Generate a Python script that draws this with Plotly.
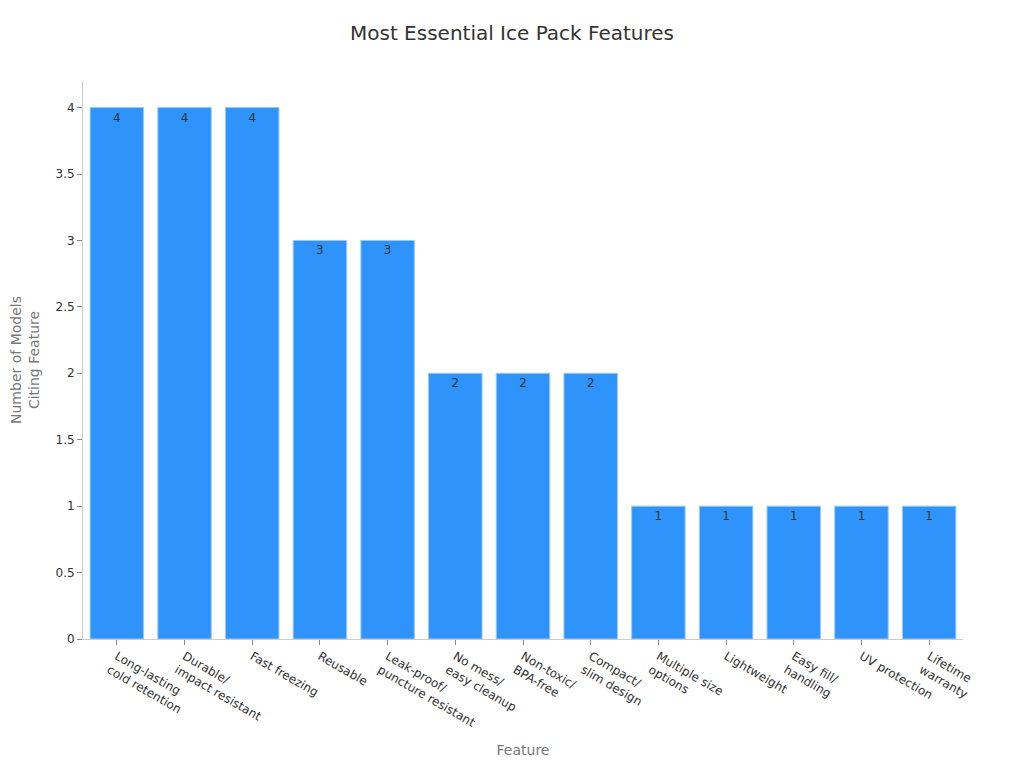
import plotly.graph_objects as go

features = [
    "Long-lasting<br>cold retention",
    "Durable/<br>impact resistant",
    "Fast freezing",
    "Reusable",
    "Leak-proof/<br>puncture resistant",
    "No mess/<br>easy cleanup",
    "Non-toxic/<br>BPA-free",
    "Compact/<br>slim design",
    "Multiple size<br>options",
    "Lightweight",
    "Easy fill/<br>handling",
    "UV protection",
    "Lifetime<br>warranty",
]
counts = [4, 4, 4, 3, 3, 2, 2, 2, 1, 1, 1, 1, 1]

fig = go.Figure(
    go.Bar(
        x=features,
        y=counts,
        text=counts,
        textposition="inside",
        insidetextanchor="end",
        textfont=dict(color="#333333", size=12),
        marker=dict(color="#2E93FA", line=dict(color="#9CC9F5", width=1)),
    )
)

fig.update_layout(
    width=1024,
    height=768,
    font=dict(family="DejaVu Sans", size=12, color="#444444"),
    title=dict(text="Most Essential Ice Pack Features", x=0.4922, xanchor="center",
               y=0.967, yanchor="middle", font=dict(size=20, color="#333333")),
    plot_bgcolor="white",
    paper_bgcolor="white",
    margin=dict(l=75, r=69, t=73, b=137),
    bargap=0.21,
    showlegend=False,
)
fig.update_xaxes(
    automargin=False,
    title=dict(text="Feature", font=dict(size=14, color="#777777"), standoff=16),
    tickangle=30,
    ticks="outside",
    ticklen=5,
    tickcolor="#888888",
    showline=True,
    linecolor="#cccccc",
    showgrid=False,
    tickfont=dict(size=12, color="#333333"),
)
fig.update_yaxes(
    automargin=False,
    title=dict(text="Number of Models<br>Citing Feature", font=dict(size=14, color="#777777"), standoff=17),
    range=[0, 4.2],
    dtick=0.5,
    ticks="outside",
    ticklen=5,
    tickcolor="#888888",
    showline=True,
    linecolor="#cccccc",
    showgrid=False,
    zeroline=False,
    tickfont=dict(size=12, color="#333333"),
)

fig.write_html("out.html")
